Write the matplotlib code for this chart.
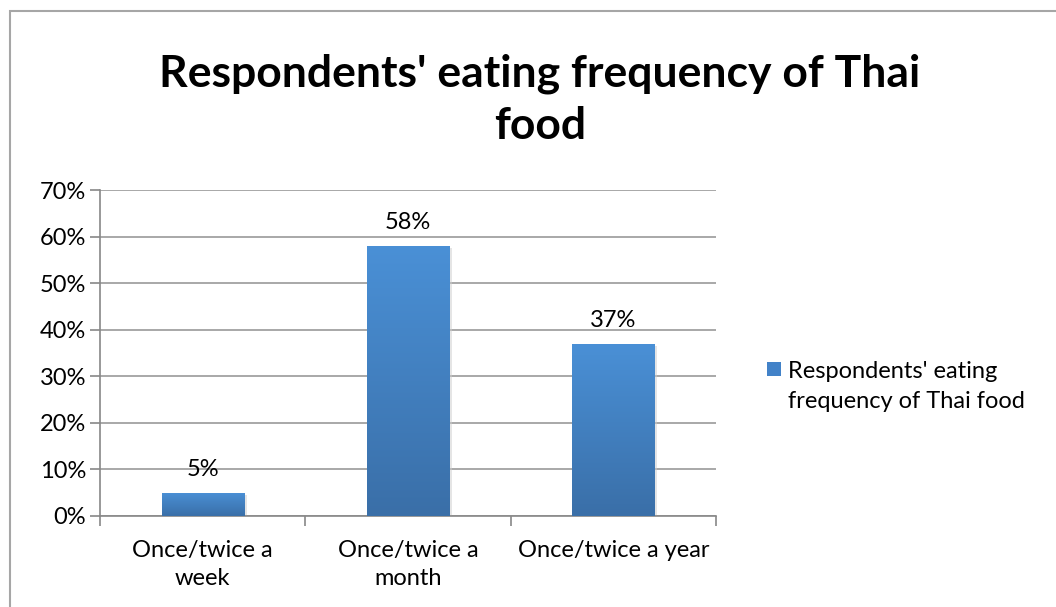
import numpy as np
import matplotlib.pyplot as plt
from matplotlib.colors import LinearSegmentedColormap
from matplotlib.patches import Rectangle

categories = ['Once/twice a\nweek', 'Once/twice a\nmonth', 'Once/twice a year']
values = [5, 58, 37]
labels = ['5%', '58%', '37%']
series_name = "Respondents' eating\nfrequency of Thai food"
yticks = [0, 10, 20, 30, 40, 50, 60, 70]

plt.rcParams['font.family'] = ['Lato', 'DejaVu Sans']

fig = plt.figure(figsize=(10.56, 6.07), dpi=100)
# outer chart border (right and bottom edges fall outside the image)
fig.patches.append(Rectangle((10 / 1056, -0.1), 1.2, (607 - 11) / 607 + 0.1,
                             transform=fig.transFigure, fill=False,
                             edgecolor='#a6a6a6', linewidth=1.5))

ax = fig.add_axes([100 / 1056, 1 - 516 / 607, 616 / 1056, 326 / 607])

grad = LinearSegmentedColormap.from_list('bar', ['#3a6fa8', '#4a90d6'])
x = np.arange(len(categories))
bars = ax.bar(x, values, width=0.4, color='none', edgecolor='none', zorder=3)
for b in bars:
    ax.add_patch(Rectangle((b.get_x() + 0.015, b.get_y() - 0.4), b.get_width(), b.get_height(),
                           facecolor='#cccccc', alpha=0.5, edgecolor='none', zorder=2))
    im = ax.imshow(np.linspace(0, 1, 100).reshape(-1, 1), cmap=grad, aspect='auto', origin='lower',
                   extent=(b.get_x(), b.get_x() + b.get_width(), 0, b.get_height()), zorder=3)
    im.set_clip_path(b)

for xi, v, lab in zip(x, values, labels):
    ax.text(xi, v + 2.8, lab, ha='center', va='bottom', fontsize=17)

ax.set_xlim(-0.5, 2.5)
ax.set_ylim(0, 70)
ax.set_yticks(yticks)
ax.set_yticklabels([f'{t}%' for t in yticks], fontsize=17)
ax.set_xticks(x)
ax.set_xticklabels(categories, fontsize=17, linespacing=1.45)
ax.set_xticks([-0.5, 0.5, 1.5, 2.5], minor=True)
ax.tick_params(axis='x', which='major', length=0, pad=17)
ax.tick_params(axis='x', which='minor', length=7, color='#888888', width=1.2)
ax.tick_params(axis='y', length=7, color='#888888', width=1.2, pad=3)
ax.yaxis.grid(True, color='#999999', linewidth=1.2, zorder=0)
ax.set_axisbelow(True)
for s in ['top', 'right']:
    ax.spines[s].set_visible(False)
for s in ['left', 'bottom']:
    ax.spines[s].set_color('#888888')
    ax.spines[s].set_linewidth(1.2)

fig.text(540 / 1056, 1 - 100 / 607, "Respondents' eating frequency of Thai\nfood",
         ha='center', va='center', fontsize=32, fontweight='bold', linespacing=1.35)

ax.add_patch(Rectangle((767 / 1056, 1 - 376 / 607), 14 / 1056, 14 / 607, transform=fig.transFigure,
                       facecolor='#4282c8', edgecolor='none', clip_on=False))
fig.text(788 / 1056, 1 - 361 / 607, series_name, ha='left', va='top', fontsize=17, linespacing=1.5)

fig.savefig('out.png', dpi=100)
